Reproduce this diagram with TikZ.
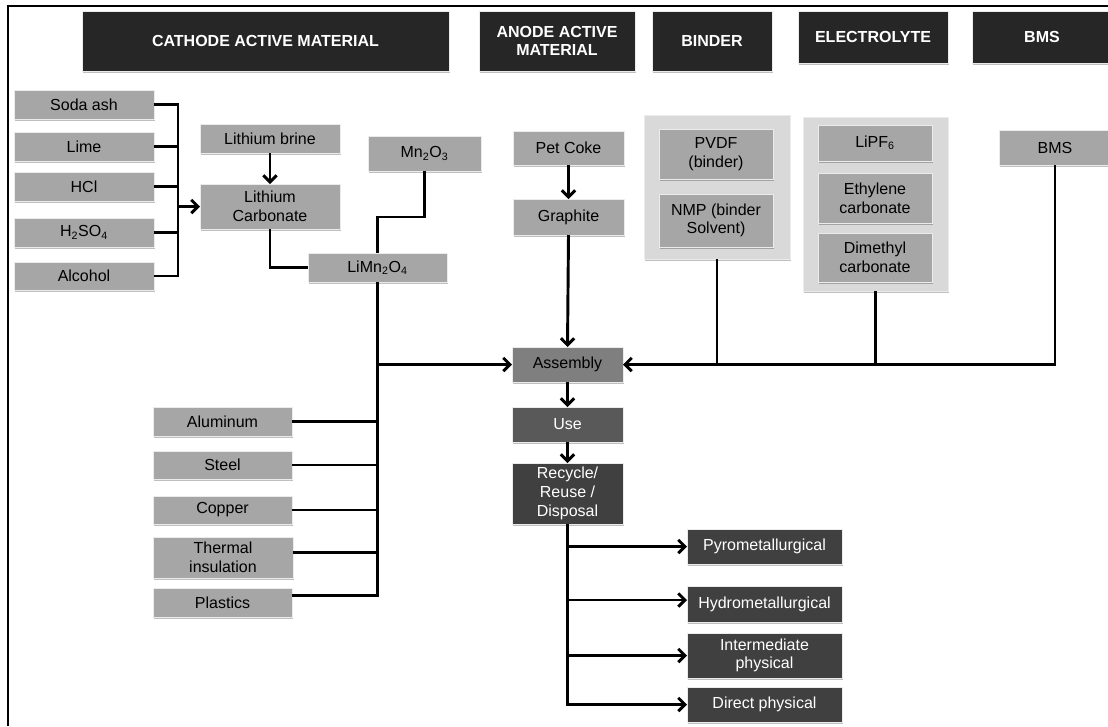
\documentclass[tikz,border=0pt]{standalone}
\usepackage{fontspec}
\setmainfont{Liberation Sans}
\usetikzlibrary{arrows.meta,shadows,calc}
\definecolor{hdrc}{HTML}{262626}
\definecolor{grayc}{HTML}{A6A6A6}
\definecolor{panelc}{HTML}{D9D9D9}
\definecolor{asmc}{HTML}{7F7F7F}
\definecolor{usec}{HTML}{595959}
\definecolor{darkc}{HTML}{404040}
\begin{document}
\begin{tikzpicture}[x=0.75pt,y=-0.75pt,
  span/.style n args={4}{at={({(#1+#3)/2},{(#2+#4)/2})},
    minimum width={(#3-#1)*0.75pt}, minimum height={(#4-#2)*0.75pt}},
  base/.style={inner sep=0pt, outer sep=0pt, align=center, anchor=center,
    font=\fontsize{12}{14}\selectfont,
    draw=white!92!black, line width=0.7pt,
    drop shadow={shadow xshift=0.8pt, shadow yshift=-1.2pt, fill=black, opacity=0.25}},
  hdr/.style={base, fill=hdrc, text=white, font=\fontsize{12}{14}\selectfont\bfseries},
  gbox/.style={base, fill=grayc, text=black},
  panel/.style={base, fill=panelc},
  asm/.style={base, fill=asmc, text=black},
  usebox/.style={base, fill=usec, text=white},
  dbox/.style={base, fill=darkc, text=white},
  conn/.style={line width=2.2pt, draw=black},
  arr/.style={conn, -{Straight Barb[length=5pt,width=10pt,line width=2.2pt]}}
]
\useasboundingbox (0,0) rectangle (1108,726);
\fill[white] (0,0) rectangle (1108,726);
% frame
\draw[line width=1.2pt] (8,726) -- (8,6) -- (1108,6);

% headers
\node[hdr, span={82}{11}{449}{71}] (hcat) {CATHODE ACTIVE MATERIAL};
\node[hdr, span={479}{11}{635}{71}] (hano) {ANODE ACTIVE\\MATERIAL};
\node[hdr, span={652}{11}{772}{71}] (hbin) {BINDER};
\node[hdr, span={798}{11}{948}{63}] (hele) {ELECTROLYTE};
\node[hdr, span={972}{11}{1112}{63}] (hbms) {BMS};

% panels
\node[panel, span={644}{115}{790}{259}] (binp) {};
\node[panel, span={803}{117}{948}{291}] (elep) {};

% left inputs
\node[gbox, span={14}{90}{154}{119}] (soda) {Soda ash};
\node[gbox, span={14}{132}{154}{161}] (lime) {Lime};
\node[gbox, span={14}{172}{154}{201}] (hcl) {HCl};
\node[gbox, span={14}{218}{154}{247}] (hso) {H\textsubscript{2}SO\textsubscript{4}};
\node[gbox, span={14}{262}{154}{290}] (alc) {Alcohol};
\node[gbox, span={200}{124}{340}{153}] (brine) {Lithium brine};
\node[gbox, span={200}{184}{340}{229}] (licarb) {Lithium\\Carbonate};
\node[gbox, span={368}{136}{481}{171}] (mno) {Mn\textsubscript{2}O\textsubscript{3}};
\node[gbox, span={308}{253}{447}{282}] (limn) {LiMn\textsubscript{2}O\textsubscript{4}};

% anode
\node[gbox, span={513}{131}{624}{165}] (pet) {Pet Coke};
\node[gbox, span={513}{199}{624}{235}] (graph) {Graphite};

% binder
\node[gbox, span={659}{129}{773}{179}] (pvdf) {PVDF\\(binder)};
\node[gbox, span={659}{194}{773}{247}] (nmp) {NMP (binder\\Solvent)};

% electrolyte
\node[gbox, span={818}{125}{932}{161}] (lipf) {LiPF\textsubscript{6}};
\node[gbox, span={818}{173}{932}{223}] (ec) {Ethylene\\carbonate};
\node[gbox, span={818}{233}{932}{282}] (dmc) {Dimethyl\\carbonate};

% BMS
\node[gbox, span={999}{130}{1111}{165}] (bms) {BMS};

% lower left materials
\node[gbox, span={153}{407}{292}{436}] (alu) {Aluminum};
\node[gbox, span={153}{451}{292}{479}] (steel) {Steel};
\node[gbox, span={153}{496}{292}{524}] (copper) {Copper};
\node[gbox, span={153}{537}{293}{578}] (therm) {Thermal\\insulation};
\node[gbox, span={153}{588}{292}{617}] (plast) {Plastics};

% centre chain
\node[asm, span={512}{347}{623}{382}] (asm) {Assembly};
\node[usebox, span={512}{407}{623}{442}] (use) {Use};
\node[dbox, span={512}{463}{623}{524}] (rec) {Recycle/\\Reuse /\\Disposal};

% end of life
\node[dbox, span={687}{529}{842}{564}] (pyro) {Pyrometallurgical};
\node[dbox, span={687}{586}{842}{622}] (hydro) {Hydrometallurgical};
\node[dbox, span={687}{633}{842}{678}] (inter) {Intermediate\\physical};
\node[dbox, span={687}{687}{842}{722}] (direct) {Direct physical};

% bracket of raw materials
\coordinate (brk) at (178,0);
\draw[conn] (soda.east) -- (soda.east -| brk) -- (alc.east -| brk) -- (alc.east);
\draw[conn] (lime.east) -- (lime.east -| brk);
\draw[conn] (hcl.east) -- (hcl.east -| brk);
\draw[conn] (hso.east) -- (hso.east -| brk);
\draw[arr] (licarb.west -| brk) -- (licarb.west);
\draw[arr] (brine.south) -- (licarb.north);
\draw[conn] (licarb.south) |- (limn.west);
\draw[conn] (mno.south) -- ++(0,46) -| (limn.north);

% spine
\coordinate (pl) at ($(plast.east)+(0,-7)$);
\draw[conn] (limn.south) -- (limn.south |- pl) -- (pl);
\draw[conn] (alu.east) -- (alu.east -| limn.south);
\draw[conn] (steel.east) -- (steel.east -| limn.south);
\draw[conn] (copper.east) -- (copper.east -| limn.south);
\draw[conn] ($(therm.east)+(0,-5)$) -- ($(therm.east -| limn.south)+(0,-5)$);
\draw[arr] (asm.west -| limn.south) -- (asm.west);

% anode
\draw[arr] (pet.south) -- (graph.north);
\draw[arr] (graph.south) -- (asm.north);

% right side feeds
\draw[arr] (bms.south) |- (asm.east);
\draw[conn] (binp.south) -- (binp.south |- asm.east);
\draw[conn] (elep.south) -- (elep.south |- asm.east);

% chain
\draw[arr] (asm.south) -- (use.north);
\draw[arr] (use.south) -- (rec.north);
\draw[arr] (rec.south) |- (direct.west);
\draw[arr] (pyro.west -| rec.south) -- (pyro.west);
\draw[arr] ($(hydro.west -| rec.south)+(0,-4)$) -- ($(hydro.west)+(0,-4)$);
\draw[arr] (inter.west -| rec.south) -- (inter.west);
\end{tikzpicture}
\end{document}
